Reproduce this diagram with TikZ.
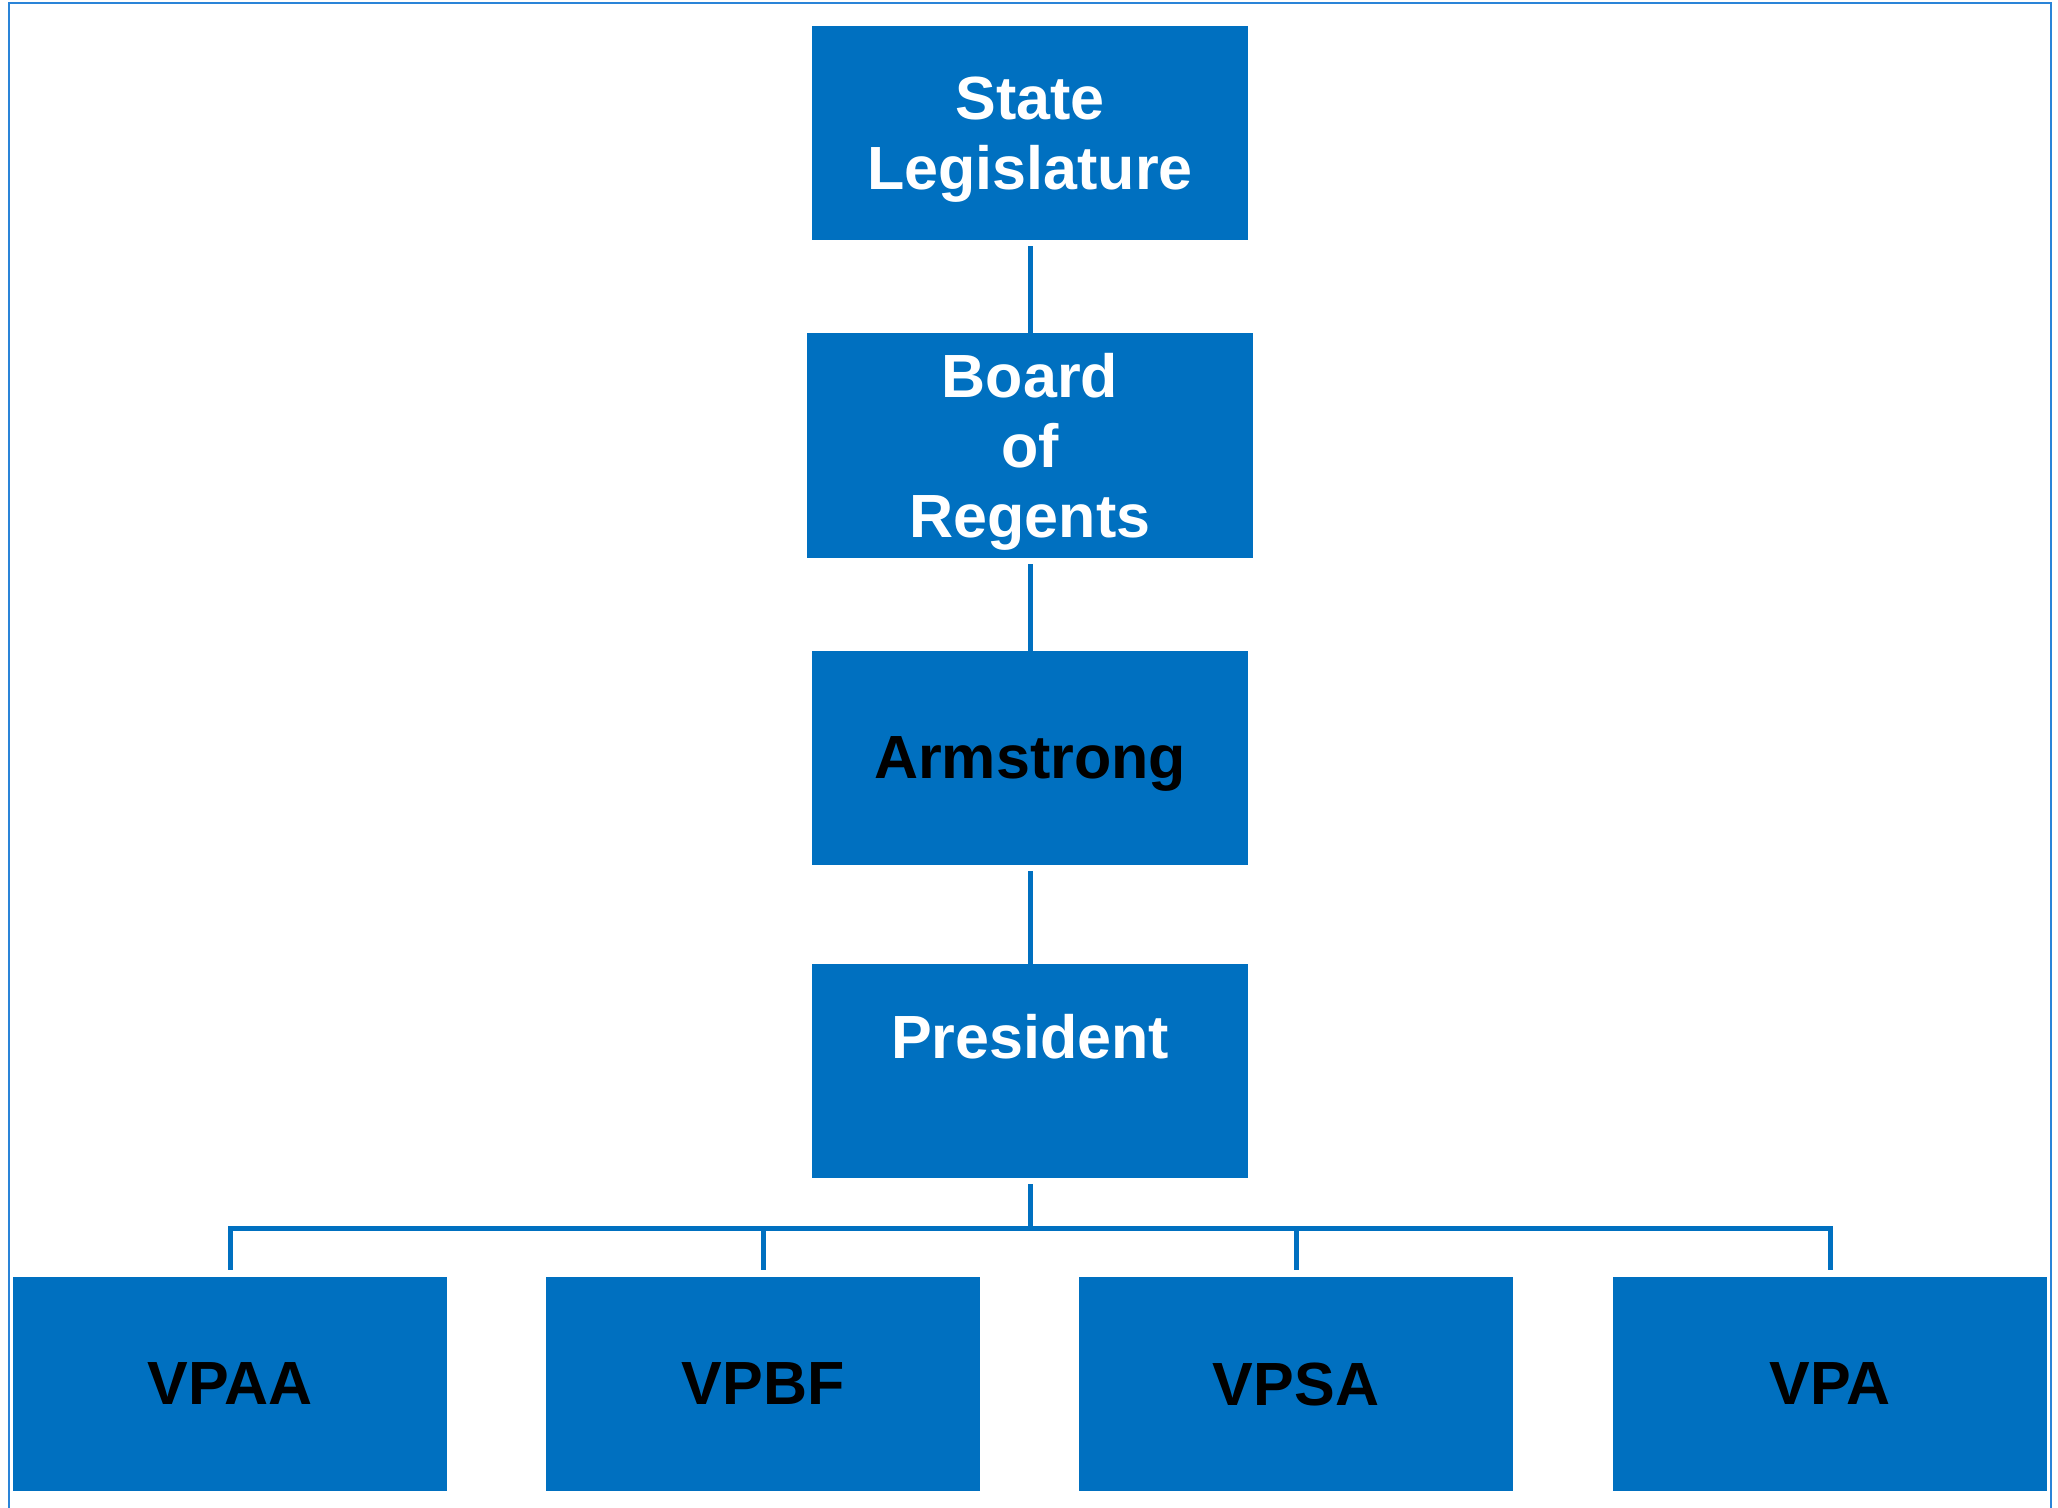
\documentclass[tikz,border=0pt]{standalone}
\usepackage{fontspec}
\setmainfont{Liberation Sans}
\usepackage{tikz}
\definecolor{boxblue}{HTML}{0070C0}
\definecolor{rimblue}{HTML}{2A84D8}
\newcommand{\nodrop}[1]{\raisebox{0pt}[\height][0pt]{#1}}

\begin{document}
\begin{tikzpicture}[x=0.5pt,y=-0.5pt,
  box/.style={fill=boxblue,inner sep=0pt,minimum width=218pt,minimum height=107pt,
    align=center,font=\bfseries\fontsize{30.5}{35}\selectfont},
  wbox/.style={box,text=white},
  kbox/.style={box,text=black},
  vpbox/.style={kbox,minimum width=217pt},
  link/.style={draw=boxblue,line width=2.5pt,shorten <=3pt}]
\useasboundingbox (0,0) rectangle (2058,1508);
\draw[rimblue,line width=1pt] (8.5,1508) -- (8.5,2.7) -- (2051,2.7) -- (2051,1508);
% chain of command
\node[wbox] (state) at (1030,133) {State\\\nodrop{Legislature}};
\node[wbox,minimum width=223pt,minimum height=112.5pt] (board) at (1030,445.5) {Board\\of\\\nodrop{Regents}};
\node[kbox] (arm) at (1030,758) {\nodrop{Armstrong}};
\node[wbox] (pres) at (1030,1071) {President\\~};
\draw[link] (state.south) -- (board.north);
\draw[link] (board.south) -- (arm.north);
\draw[link] (arm.south) -- (pres.north);
% vice presidents
\node[vpbox] (vpaa) at (230,1384) {VPAA};
\node[vpbox] (vpbf) at (763,1384) {VPBF};
\node[vpbox] (vpsa) at (1296,1384) {VPSA};
\node[vpbox] (vpa) at (1830,1384) {VPA};
\coordinate (bar) at (1030,1228);
\draw[link] (pres.south) -- (bar);
\draw[link,shorten <=3.5pt] (vpaa.north) |- (bar);
\draw[link,shorten <=3.5pt] (vpbf.north) |- (bar);
\draw[link,shorten <=3.5pt] (vpsa.north) |- (bar);
\draw[link,shorten <=3.5pt] (vpa.north) |- (bar);
\end{tikzpicture}
\end{document}
